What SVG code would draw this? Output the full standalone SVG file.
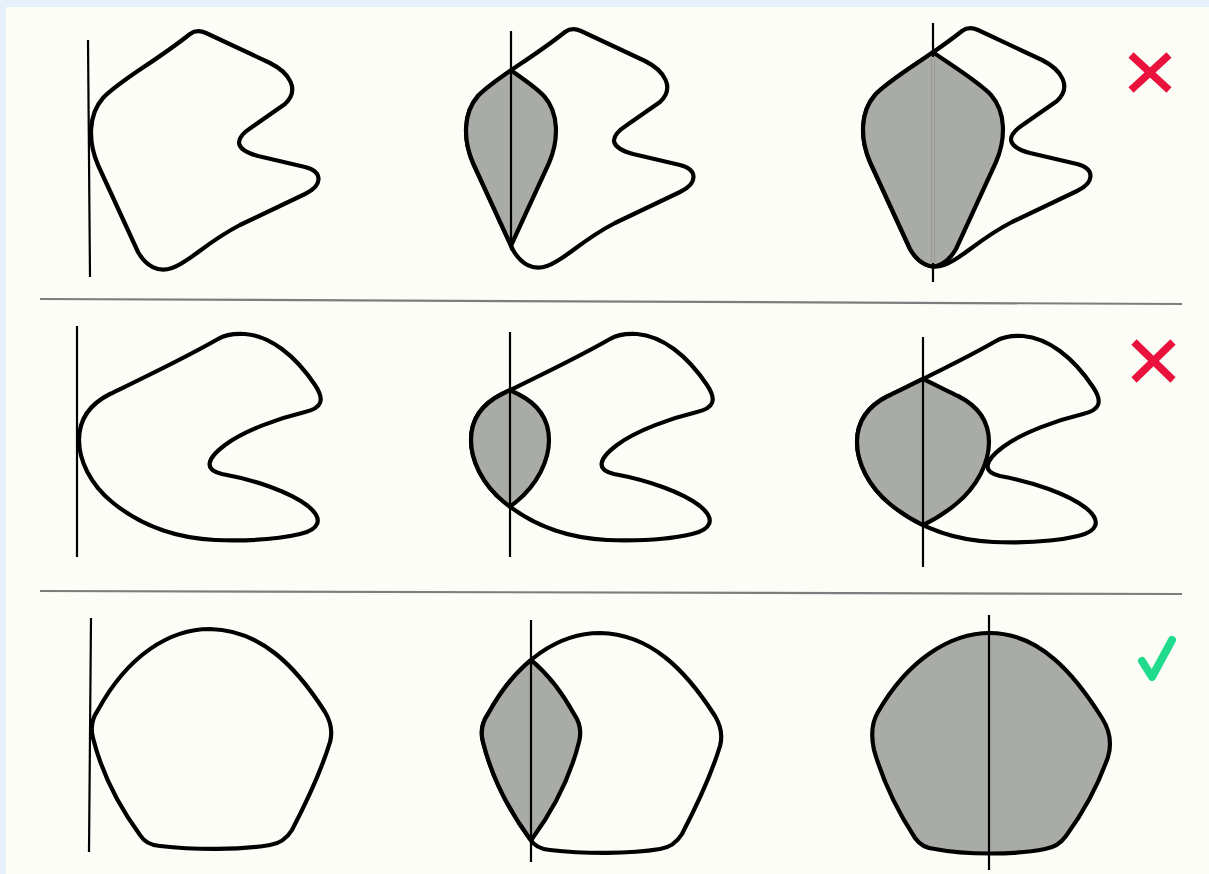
<svg xmlns="http://www.w3.org/2000/svg" xmlns:xlink="http://www.w3.org/1999/xlink" width="1209" height="874" viewBox="0 0 1209 874">
<style>
.bgfill{fill:#fdfdf8;stroke:#000;stroke-width:4.2;stroke-linejoin:round}
.grey{fill:#a9aba6;stroke:none}
.edge{fill:none;stroke:#000;stroke-width:4.2;stroke-linejoin:round}
.axis{stroke:#000;stroke-width:2.2;fill:none}
.sep{stroke:#7d7d7d;stroke-width:2.2}
.cross{stroke:#e8123c;stroke-width:7.5;stroke-linecap:butt;fill:none}
.check{stroke:#22dc8e;stroke-width:8;stroke-linecap:round;stroke-linejoin:round;fill:none}
</style>
<defs>
<path id="P" d="M190,34 Q197,29 206,33 L270,63 C290,73 300,90 285,104 L252,127 C232,140 236,150 258,156 L305,167 C324,172 322,186 305,194 L240,225 C205,243 190,262 172,268 C158,273 146,266 138,252 L98,165 C88,142 88,115 103,98 C120,80 155,62 190,34 Z"/>
<path id="Q" d="M218,339 Q228,333 245,334 C270,336 295,355 315,385 C325,400 322,408 305,412 C280,418 245,430 225,445 C205,460 205,470 222,474 C255,480 290,492 308,506 C325,520 318,530 300,534 C275,540 245,541 215,540 C175,538 140,525 112,502 C90,484 79,460 79,440 C79,420 88,405 110,394 C145,377 185,358 218,339 Z"/>
<path id="R" d="M210,629 C170,629 128,655 98,710 Q89,723 93,738 C101,770 118,805 140,835 Q146,845 160,846 C195,850 240,850 270,845 Q284,843 292,830 C305,805 320,775 330,742 Q334,727 325,712 C295,665 260,630 210,629 Z"/>
<clipPath id="l12" clipPathUnits="userSpaceOnUse"><rect x="-200" y="0" width="336" height="900"/></clipPath>
<clipPath id="r12" clipPathUnits="userSpaceOnUse"><rect x="136" y="0" width="600" height="900"/></clipPath>
<clipPath id="l13" clipPathUnits="userSpaceOnUse"><rect x="-200" y="0" width="361" height="900"/></clipPath>
<clipPath id="r13" clipPathUnits="userSpaceOnUse"><rect x="161" y="0" width="600" height="900"/></clipPath>
<clipPath id="l22" clipPathUnits="userSpaceOnUse"><rect x="-200" y="0" width="318" height="900"/></clipPath>
<clipPath id="r22" clipPathUnits="userSpaceOnUse"><rect x="118" y="0" width="600" height="900"/></clipPath>
<clipPath id="l23" clipPathUnits="userSpaceOnUse"><rect x="-200" y="0" width="345" height="900"/></clipPath>
<clipPath id="r23" clipPathUnits="userSpaceOnUse"><rect x="145" y="0" width="600" height="900"/></clipPath>
<clipPath id="l32" clipPathUnits="userSpaceOnUse"><rect x="-200" y="0" width="341" height="900"/></clipPath>
<clipPath id="r32" clipPathUnits="userSpaceOnUse"><rect x="141" y="0" width="600" height="900"/></clipPath>
</defs>

<rect x="0" y="0" width="1209" height="874" fill="#e6f0fb"/>
<rect x="6" y="7" width="1203" height="867" fill="#fdfdf8"/>

<g id="separators">
<line class="sep" x1="40" y1="299" x2="1182" y2="304"/>
<line class="sep" x1="40" y1="591" x2="1182" y2="594"/>
</g>

<!-- Row 1 -->
<g id="r1p1">
<use xlink:href="#P" href="#P" class="bgfill"/>
<line class="axis" x1="88" y1="40" x2="90" y2="277"/>
</g>
<g id="r1p2" transform="translate(375,-2)">
<use xlink:href="#P" href="#P" class="bgfill"/>
<g clip-path="url(#l12)"><use xlink:href="#P" href="#P" class="grey"/></g>
<g clip-path="url(#r12)"><use xlink:href="#P" href="#P" class="grey" transform="translate(272,0) scale(-1,1)"/></g>
<g clip-path="url(#l12)"><use xlink:href="#P" href="#P" class="edge"/></g>
<g clip-path="url(#r12)"><use xlink:href="#P" href="#P" class="edge" transform="translate(272,0) scale(-1,1)"/></g>
<line class="axis" x1="136" y1="33" x2="136" y2="252"/>
</g>
<g id="r1p3" transform="translate(772,-3)">
<use xlink:href="#P" href="#P" class="bgfill"/>
<g clip-path="url(#l13)"><use xlink:href="#P" href="#P" class="grey"/></g>
<g clip-path="url(#r13)"><use xlink:href="#P" href="#P" class="grey" transform="translate(322,0) scale(-1,1)"/></g>
<g clip-path="url(#l13)"><use xlink:href="#P" href="#P" class="edge"/></g>
<g clip-path="url(#r13)"><use xlink:href="#P" href="#P" class="edge" transform="translate(322,0) scale(-1,1)"/></g>
<line class="axis" x1="161" y1="26" x2="161" y2="285"/>
<line x1="161" y1="60" x2="161" y2="266" stroke="#f2f2ee" stroke-width="1.4"/>
</g>
<g id="mark1">
<line class="cross" x1="1131" y1="55" x2="1169" y2="90"/>
<line class="cross" x1="1169" y1="55" x2="1131" y2="90"/>
</g>

<!-- Row 2 -->
<g id="r2p1">
<use xlink:href="#Q" href="#Q" class="bgfill"/>
<line class="axis" x1="77" y1="326" x2="77" y2="557"/>
</g>
<g id="r2p2" transform="translate(392,0)">
<use xlink:href="#Q" href="#Q" class="bgfill"/>
<g clip-path="url(#l22)"><use xlink:href="#Q" href="#Q" class="grey"/></g>
<g clip-path="url(#r22)"><use xlink:href="#Q" href="#Q" class="grey" transform="translate(236,0) scale(-1,1)"/></g>
<g clip-path="url(#l22)"><use xlink:href="#Q" href="#Q" class="edge"/></g>
<g clip-path="url(#r22)"><use xlink:href="#Q" href="#Q" class="edge" transform="translate(236,0) scale(-1,1)"/></g>
<line class="axis" x1="118" y1="332" x2="118" y2="557"/>
</g>
<g id="r2p3" transform="translate(778,2)">
<use xlink:href="#Q" href="#Q" class="bgfill"/>
<g clip-path="url(#l23)"><use xlink:href="#Q" href="#Q" class="grey"/></g>
<g clip-path="url(#r23)"><use xlink:href="#Q" href="#Q" class="grey" transform="translate(290,0) scale(-1,1)"/></g>
<g clip-path="url(#l23)"><use xlink:href="#Q" href="#Q" class="edge"/></g>
<g clip-path="url(#r23)"><use xlink:href="#Q" href="#Q" class="edge" transform="translate(290,0) scale(-1,1)"/></g>
<line class="axis" x1="145" y1="335" x2="145" y2="565"/>
</g>
<g id="mark2">
<line class="cross" x1="1134" y1="342" x2="1173" y2="380"/>
<line class="cross" x1="1173" y1="342" x2="1134" y2="380"/>
</g>

<!-- Row 3 -->
<g id="r3p1">
<use xlink:href="#R" href="#R" class="bgfill"/>
<line class="axis" x1="91" y1="618" x2="89" y2="852"/>
</g>
<g id="r3p2" transform="translate(390,4)">
<use xlink:href="#R" href="#R" class="bgfill"/>
<g clip-path="url(#l32)"><use xlink:href="#R" href="#R" class="grey"/></g>
<g clip-path="url(#r32)"><use xlink:href="#R" href="#R" class="grey" transform="translate(282,0) scale(-1,1)"/></g>
<g clip-path="url(#l32)"><use xlink:href="#R" href="#R" class="edge"/></g>
<g clip-path="url(#r32)"><use xlink:href="#R" href="#R" class="edge" transform="translate(282,0) scale(-1,1)"/></g>
<line class="axis" x1="141" y1="616" x2="141" y2="858"/>
</g>
<g id="r3p3">
<path d="M990,633 C950,633 908,660 878,712 Q869,727 874,750 C884,785 900,815 915,838 Q922,848 935,849 C965,855 1015,855 1045,849 Q1058,847 1066,836 C1085,810 1100,780 1108,757 Q1114,737 1102,718 C1075,675 1040,633 990,633 Z" fill="#a9aba6" stroke="#000" stroke-width="4.2" stroke-linejoin="round"/>
<line class="axis" x1="989" y1="615" x2="989" y2="870"/>
</g>
<g id="mark3">
<polyline class="check" points="1142,661 1152,677 1172,640"/>
</g>
</svg>
